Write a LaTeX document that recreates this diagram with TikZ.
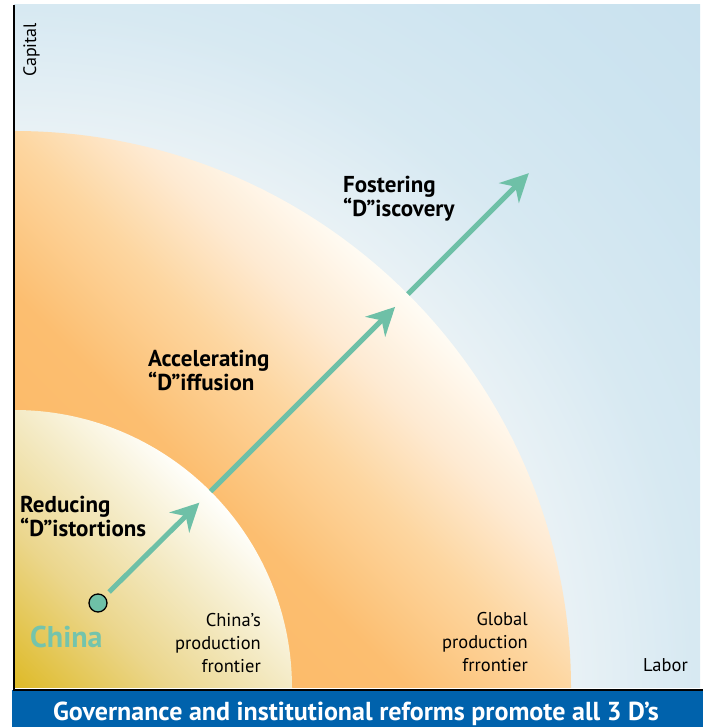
\documentclass[tikz,border=0pt]{standalone}
\usepackage{fontspec}
\setmainfont{PT Sans}
\usetikzlibrary{arrows.meta}
\definecolor{tealA}{RGB}{110,192,167}
\definecolor{tealT}{RGB}{116,196,172}
\definecolor{barblue}{RGB}{0,98,172}
\definecolor{inA}{RGB}{222,186,38}
\definecolor{inB}{RGB}{235,214,140}
\definecolor{inC}{RGB}{244,234,196}
\definecolor{inD}{RGB}{255,255,252}
\definecolor{outA}{RGB}{251,180,92}
\definecolor{outB}{RGB}{252,190,112}
\definecolor{outC}{RGB}{253,214,160}
\definecolor{outD}{RGB}{254,234,210}
\definecolor{outE}{RGB}{255,252,245}
\definecolor{bgA}{RGB}{235,243,246}
\definecolor{bgB}{RGB}{232,241,245}
\definecolor{bgC}{RGB}{215,233,242}
\definecolor{bgD}{RGB}{205,228,240}
\definecolor{bgE}{RGB}{201,225,238}
\pgfdeclareverticalshading{innershade}{100bp}{color(0bp)=(inA); color(25bp)=(inA); color(45bp)=(inB); color(60bp)=(inC); color(75bp)=(inD); color(100bp)=(inD)}
\pgfdeclareverticalshading{outershade}{100bp}{color(0bp)=(outA); color(25bp)=(outA); color(50bp)=(outB); color(60bp)=(outC); color(67.5bp)=(outD); color(75bp)=(outE); color(100bp)=(outE)}
\pgfdeclareradialshading{bgshade}{\pgfpoint{0bp}{0bp}}{color(0bp)=(bgA); color(14bp)=(bgB); color(17bp)=(bgC); color(21bp)=(bgD); color(25bp)=(bgE); color(50bp)=(bgE)}
\begin{document}
\begin{tikzpicture}[x=1pt,y=1pt,
  arr/.style={draw=tealA, line width=5pt, -{Stealth[length=28pt,width=28pt,inset=9pt]}},
  dlabel/.style={font=\bfseries\fontsize{23}{24.5}\selectfont, align=left, inner sep=0, anchor=base west},
  flabel/.style={font=\fontsize{18.5}{23}\selectfont, align=right, inner sep=0, anchor=base east},
  chinadot/.style={circle, fill=tealA, draw=black, line width=1.3pt, minimum size=18pt, inner sep=0}]
\useasboundingbox (0,0) rectangle (703,727);
% background
\begin{scope}
  \clip (14,39) rectangle (700,722);
  \shade[shading=bgshade] (14,39) circle (1000);
\end{scope}
% global frontier disk
\begin{scope}
  \clip (14,39) -- (571,39) arc (0:90:557) -- cycle;
  \begin{scope}[transform canvas={shift={(14,39)},rotate=-45}]
    \shade[shading=outershade] (-557,0) rectangle (557,557);
  \end{scope}
\end{scope}
% China frontier disk
\begin{scope}
  \clip (14,39) -- (292,39) arc (0:90:278) -- cycle;
  \begin{scope}[transform canvas={shift={(14,39)},rotate=-45}]
    \shade[shading=innershade] (-278,0) rectangle (278,278);
  \end{scope}
\end{scope}
% bottom bar and axes
\fill[barblue] (12,0) rectangle (703,36.5);
\draw[line width=2pt] (13,37) -- (703,37);
\draw[line width=2pt] (14,722) -- (14,37);
% arrows
\node[chinadot] (china) at (98,124) {};
\coordinate (t1) at (199.3,224.3);
\coordinate (s2) at (210.6,235.6);
\coordinate (t2) at (395.1,420.1);
\coordinate (s3) at (407.9,432.9);
\coordinate (t3) at (528.8,553.8);
\draw[arr, shorten <=6pt] (china) -- (t1);
\draw[arr] (s2) -- (t2);
\draw[arr] (s3) -- (t3);
% texts
\node[dlabel] (fost) at (343,510) {Fostering\\“D”iscovery};
\node[dlabel] (accel) at (148,336) {Accelerating\\“D”iffusion};
\node[dlabel] (reduc) at (20,190) {Reducing\\“D”istortions};
\node[font=\bfseries\fontsize{30}{30}\selectfont, text=tealT, inner sep=0, anchor=base west] (chinalbl) at (30,79) {China};
\node[flabel] (cpf) at (261,54) {China’s\\production\\frontier};
\node[flabel] (gpf) at (528,55) {Global\\production\\frrontier};
\node[flabel] (labor) at (688,55) {Labor};
\node[font=\fontsize{18}{20}\selectfont, inner sep=0, anchor=base west, rotate=90] (capital) at (36,650) {Capital};
\node[font=\bfseries\fontsize{26}{28}\selectfont, text=white, inner sep=0, anchor=base] (title) at (356,6) {Governance and institutional reforms promote all 3 D’s};
\end{tikzpicture}
\end{document}
